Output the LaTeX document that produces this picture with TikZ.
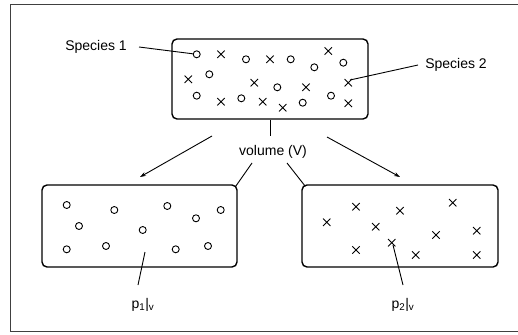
\documentclass[tikz,border=0pt]{standalone}
\usepackage{fontspec}
\setmainfont{Liberation Sans}
\usetikzlibrary{arrows.meta,shapes.misc}
\begin{document}
\begin{tikzpicture}[x=1pt,y=-1pt,
  box/.style={draw, rounded corners=5pt, line width=1.4pt, inner sep=0pt},
  circ/.style={circle, draw, minimum size=7pt, inner sep=0pt, line width=0.9pt},
  crs/.style={cross out, draw, minimum size=6.5pt, inner sep=0pt, line width=0.9pt},
  lbl/.style={font=\fontsize{14}{16}\selectfont, inner sep=0pt},
  ln/.style={line width=0.9pt},
  arr/.style={line width=0.9pt, -{Stealth[length=6pt,width=4pt]}}]
\useasboundingbox (0,0) rectangle (518,334);
\draw[line width=1pt, black!75] (518,5) -- (10,5) -- (10,331) -- (518,331);
% boxes
\node[box, minimum width=196pt, minimum height=80pt] (top) at (270,79) {};
\node[box, minimum width=195pt, minimum height=82pt] (L) at (139.5,226) {};
\node[box, minimum width=196pt, minimum height=82pt] (R) at (400,226) {};
% top box markers
\foreach \n/\x/\y in {a1/196.7/54.3, a2/246/59.3, a3/290.7/59.3, a4/314.3/67.3, a5/343.3/62.7,
  a6/209.3/74.3, a7/277.3/87.3, a8/196.7/95.7, a9/241.3/98.3, a10/302.7/102.7, a11/331/95.7}
  \node[circ] (\n) at (\x,\y) {};
\foreach \n/\x/\y in {b1/221/54.3, b2/270/59.3, b3/328.3/51, b4/188.3/79.3, b5/254.3/82.7,
  b6/306/87.3, b7/348.3/82.7, b8/221/101.7, b9/262.7/101.7, b10/282.7/107.7, b11/348.3/103.3}
  \node[crs] (\n) at (\x,\y) {};
% left box circles
\foreach \n/\x/\y in {c1/66.7/205, c2/114.3/210, c3/167.3/206, c4/220.7/210, c5/196/218.3,
  c6/79/226, c7/142.7/230, c8/66.7/249.3, c9/106/246, c10/175.7/249.3, c11/208/246}
  \node[circ] (\n) at (\x,\y) {};
% right box crosses
\foreach \n/\x/\y in {d1/356/206.7, d2/400/210.7, d3/452.7/202.7, d4/326.7/222.3, d5/375.7/226.7,
  d6/436/235, d7/476.7/230.7, d8/356/250, d9/391.7/242.7, d10/415.7/255, d11/476.7/255}
  \node[crs] (\n) at (\x,\y) {};
% labels
\node[lbl] (s1) at (96,47) {Species 1};
\node[lbl] (s2) at (456,65) {Species 2};
\node[lbl] (vol) at (273,152) {volume (V)};
\node[lbl] (p1) at (143,305) {p\textsubscript{1}|\textsubscript{v}};
\node[lbl] (p2) at (403,305) {p\textsubscript{2}|\textsubscript{v}};
% coordinates
\coordinate (vb) at (270,136);
\coordinate (la0) at (212,136);
\coordinate (la1) at (140,177);
\coordinate (ra0) at (327,137);
\coordinate (ra1) at (400,177);
\coordinate (vl) at (252,163);
\coordinate (vr) at (287,163);
\coordinate (p1a) at (138,285);
\coordinate (p1b) at (145,252);
\coordinate (p2a) at (403,285);
\coordinate (p2b) at (393,245);
\coordinate (s1a) at (139,47);
\coordinate (s2a) at (418,65);
\coordinate (s2b) at (350,80);
% connectors
\draw[ln] (top.south) -- (vb);
\draw[arr] (la0) -- (la1);
\draw[arr] (ra0) -- (ra1);
\draw[ln] (vl) -- ([shift={(-2,2)}]L.north east);
\draw[ln] (vr) -- ([shift={(4,2)}]R.north west);
\draw[ln] (s1a) -- (a1);
\draw[ln] (s2a) -- (s2b);
\draw[ln] (p1a) -- (p1b);
\draw[ln] (p2a) -- (p2b);
\end{tikzpicture}
\end{document}
